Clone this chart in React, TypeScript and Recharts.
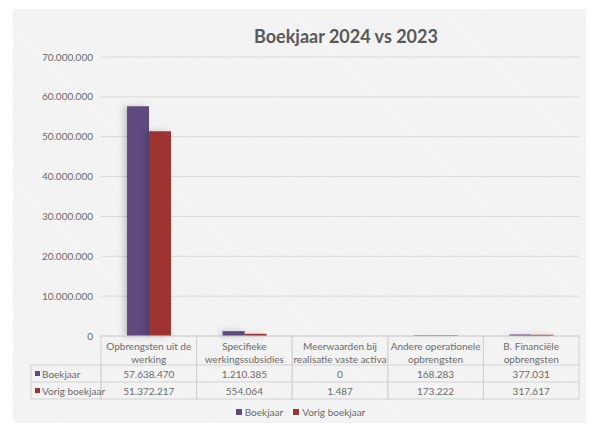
import { Bar, BarChart, CartesianGrid, Legend, XAxis, YAxis } from "recharts";

const categories = [
  "Opbrengsten uit de werking",
  "Specifieke werkingssubsidies",
  "Meerwaarden bij realisatie vaste activa",
  "Andere operationele opbrengsten",
  "B. Financiële opbrengsten",
];
const boekjaar = [57638470, 1210385, 0, 168283, 377031];
const vorigBoekjaar = [51372217, 554064, 1487, 173222, 317617];
const yTicks = [0, 10000000, 20000000, 30000000, 40000000, 50000000, 60000000, 70000000];

const seriesNames = ["Boekjaar", "Vorig boekjaar"];
const colors = ["#5e4a7f", "#9e3431"];

const data = categories.map((c, i) => ({
  name: c,
  boekjaar: boekjaar[i],
  vorig: vorigBoekjaar[i],
}));

const FONT = "Lato, 'Open Sans', sans-serif";
const TEXT = "#6a6a6a";
const BORDER = "#d2d2d2";

// dutch thousands separator
const fmt = (v: number) => String(v).replace(/\B(?=(\d{3})+(?!\d))/g, ".");

function wrap(text: string, max = 23) {
  const words = text.split(" ");
  const lines: string[] = [];
  let cur = "";
  words.forEach((w) => {
    if (cur && (cur + " " + w).length > max) {
      lines.push(cur);
      cur = w;
    } else {
      cur = cur ? cur + " " + w : w;
    }
  });
  if (cur) lines.push(cur);
  return lines;
}

const HEAD_H = 29;
const ROW_H = 17;
const LEFT_COL_X = 31;

function TableTick(props: any) {
  const { x, y, payload, index, width } = props;
  const cw = width / categories.length;
  const left = x - cw / 2;
  const lines = wrap(payload.value);
  const values = [boekjaar[index], vorigBoekjaar[index]];

  return (
    <g fontFamily={FONT} fontSize={10} fill={TEXT}>
      <rect x={left} y={y} width={cw} height={HEAD_H + ROW_H * 2} fill="none" stroke={BORDER} />
      <line x1={left} x2={left + cw} y1={y + HEAD_H} y2={y + HEAD_H} stroke={BORDER} />
      <line x1={left} x2={left + cw} y1={y + HEAD_H + ROW_H} y2={y + HEAD_H + ROW_H} stroke={BORDER} />
      {lines.map((l, i) => (
        <text
          key={i}
          x={x}
          y={y + 10 + i * 13}
          textAnchor="middle"
          dominantBaseline="central"
        >
          {l}
        </text>
      ))}
      {values.map((v, i) => (
        <text
          key={"v" + i}
          x={x}
          y={y + HEAD_H + ROW_H * i + ROW_H / 2}
          textAnchor="middle"
          dominantBaseline="central"
        >
          {fmt(v)}
        </text>
      ))}

      {index === 0 && (
        <g>
          <rect
            x={LEFT_COL_X}
            y={y + HEAD_H}
            width={left - LEFT_COL_X}
            height={ROW_H * 2}
            fill="none"
            stroke={BORDER}
          />
          <line
            x1={LEFT_COL_X}
            x2={left}
            y1={y + HEAD_H + ROW_H}
            y2={y + HEAD_H + ROW_H}
            stroke={BORDER}
          />
          {seriesNames.map((s, i) => (
            <g key={s}>
              <rect
                x={LEFT_COL_X + 4}
                y={y + HEAD_H + ROW_H * i + ROW_H / 2 - 2.5}
                width={5}
                height={5}
                fill={colors[i]}
              />
              <text
                x={LEFT_COL_X + 11}
                y={y + HEAD_H + ROW_H * i + ROW_H / 2}
                dominantBaseline="central"
              >
                {s}
              </text>
            </g>
          ))}
        </g>
      )}
    </g>
  );
}

function ShadowBar(props: any) {
  const { x, y, width, height, fill } = props;
  if (!height || height <= 0) return null;
  return (
    <rect
      x={x}
      y={y}
      width={width}
      height={height}
      fill={fill}
      style={{ filter: "drop-shadow(-3px 0px 3px rgba(0,0,0,0.2))" }}
    />
  );
}

function LegendContent() {
  return (
    <div
      style={{
        display: "flex",
        justifyContent: "center",
        alignItems: "center",
        gap: 10,
        fontFamily: FONT,
        fontSize: 10,
        color: TEXT,
        height: 28,
        paddingLeft: 22,
      }}
    >
      {seriesNames.map((s, i) => (
        <span key={s} style={{ display: "flex", alignItems: "center" }}>
          <span
            style={{
              width: 6,
              height: 6,
              background: colors[i],
              display: "inline-block",
              marginRight: 3,
            }}
          />
          {s}
        </span>
      ))}
    </div>
  );
}

export default function App() {
  return (
    <div
      style={{
        position: "absolute",
        left: 0,
        top: 0,
        width: 589,
        height: 426,
        background: "#ffffff",
        overflow: "hidden",
      }}
    >
      {/* hatched panel */}
      <div
        style={{
          position: "absolute",
          left: 13,
          top: 9,
          width: 573,
          height: 414,
          background:
            "repeating-linear-gradient(45deg, #f5f5f5 0px, #f5f5f5 1.5px, #f0f0f0 1.5px, #f0f0f0 2.5px)",
        }}
      />

      {/* TITLE */}
      <div
        style={{
          position: "absolute",
          left: 0,
          top: 22,
          width: 692,
          textAlign: "center",
          fontFamily: FONT,
          fontWeight: 700,
          fontSize: 18,
          color: "#595959",
          lineHeight: "28px",
        }}
      >
        Boekjaar 2024 vs 2023
      </div>

      <div style={{ position: "absolute", left: 0, top: 0 }}>
        <BarChart
          width={589}
          height={426}
          data={data}
          margin={{ top: 57, right: 10, bottom: 0, left: 0 }}
          barGap={0}
          barSize={22}
        >
          <CartesianGrid horizontal vertical={false} stroke="#dadada" />
          <XAxis
            dataKey="name"
            interval={0}
            height={62}
            tickLine={false}
            axisLine={false}
            tickSize={0}
            tickMargin={0}
            tick={<TableTick />}
          />
          <YAxis
            width={101}
            domain={[0, 70000000]}
            ticks={yTicks}
            interval={0}
            tickLine={false}
            axisLine={false}
            tickSize={0}
            tickMargin={8}
            tickFormatter={fmt}
            tick={{ fill: TEXT, fontSize: 10, fontFamily: FONT }}
          />
          <Legend verticalAlign="bottom" height={28} content={<LegendContent />} />
          <Bar
            dataKey="boekjaar"
            name={seriesNames[0]}
            fill={colors[0]}
            shape={<ShadowBar />}
            isAnimationActive={false}
          />
          <Bar
            dataKey="vorig"
            name={seriesNames[1]}
            fill={colors[1]}
            shape={<ShadowBar />}
            isAnimationActive={false}
          />
        </BarChart>
      </div>
    </div>
  );
}
